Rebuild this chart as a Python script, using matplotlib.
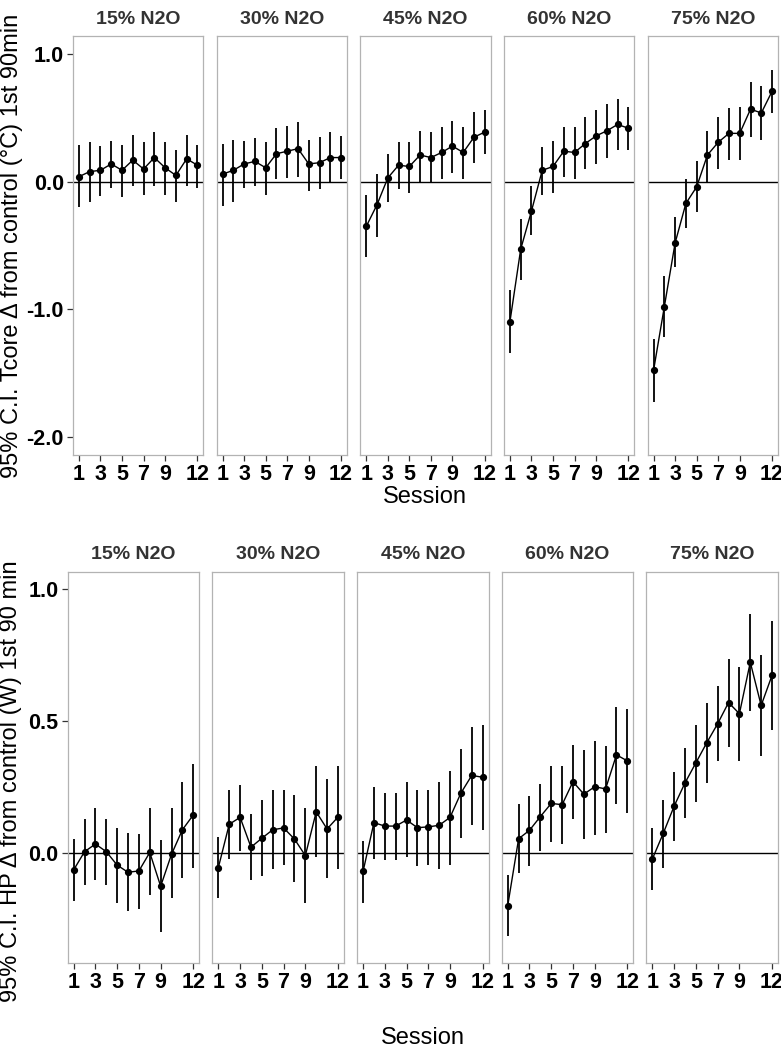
import numpy as np
import matplotlib
matplotlib.use('Agg')
from matplotlib import pyplot as plt

plt.rcParams['font.family'] = ['Liberation Sans', 'DejaVu Sans']

# facets and x values
doses = ['15% N2O', '30% N2O', '45% N2O', '60% N2O', '75% N2O']
sessions = list(range(1, 13))
xtick_vals = [1, 3, 5, 7, 9, 12]

# Tcore delta from control, mean and 95% CI per dose
tcore_mean = [
    [0.04, 0.08, 0.09, 0.14, 0.09, 0.17, 0.10, 0.19, 0.11, 0.05, 0.18, 0.13],
    [0.06, 0.09, 0.14, 0.16, 0.11, 0.22, 0.24, 0.26, 0.14, 0.15, 0.19, 0.19],
    [-0.35, -0.18, 0.03, 0.13, 0.12, 0.21, 0.19, 0.23, 0.28, 0.23, 0.35, 0.39],
    [-1.10, -0.53, -0.23, 0.09, 0.12, 0.24, 0.23, 0.30, 0.36, 0.40, 0.45, 0.42],
    [-1.48, -0.98, -0.48, -0.17, -0.04, 0.21, 0.31, 0.38, 0.38, 0.57, 0.54, 0.71],
]
tcore_lo = [
    [-0.20, -0.16, -0.11, -0.05, -0.12, -0.03, -0.10, -0.03, -0.10, -0.16, -0.03, -0.05],
    [-0.19, -0.16, -0.05, -0.03, -0.10, 0.02, 0.03, 0.04, -0.07, -0.06, -0.01, 0.02],
    [-0.59, -0.43, -0.16, -0.06, -0.09, -0.01, -0.01, 0.02, 0.07, 0.02, 0.15, 0.22],
    [-1.34, -0.77, -0.42, -0.10, -0.09, 0.04, 0.02, 0.10, 0.14, 0.19, 0.25, 0.25],
    [-1.73, -1.22, -0.67, -0.36, -0.24, 0.00, 0.10, 0.17, 0.17, 0.35, 0.33, 0.54],
]
tcore_hi = [
    [0.29, 0.31, 0.28, 0.32, 0.29, 0.37, 0.31, 0.39, 0.31, 0.25, 0.37, 0.29],
    [0.30, 0.33, 0.32, 0.34, 0.31, 0.42, 0.44, 0.47, 0.33, 0.35, 0.39, 0.36],
    [-0.10, 0.06, 0.22, 0.31, 0.31, 0.40, 0.39, 0.43, 0.48, 0.43, 0.55, 0.56],
    [-0.85, -0.29, -0.03, 0.27, 0.32, 0.43, 0.43, 0.51, 0.56, 0.61, 0.65, 0.59],
    [-1.23, -0.74, -0.28, 0.02, 0.16, 0.40, 0.51, 0.58, 0.59, 0.78, 0.75, 0.88],
]

# HP delta from control, mean and 95% CI per dose
hp_mean = [
    [-0.063, 0.006, 0.035, 0.006, -0.045, -0.072, -0.067, 0.003, -0.125, -0.004, 0.089, 0.145],
    [-0.054, 0.110, 0.136, 0.023, 0.057, 0.089, 0.096, 0.054, -0.009, 0.157, 0.092, 0.137],
    [-0.069, 0.116, 0.103, 0.103, 0.126, 0.097, 0.100, 0.106, 0.136, 0.228, 0.295, 0.288],
    [-0.198, 0.055, 0.087, 0.139, 0.189, 0.184, 0.271, 0.224, 0.252, 0.244, 0.373, 0.350],
    [-0.021, 0.076, 0.179, 0.267, 0.343, 0.419, 0.491, 0.571, 0.529, 0.724, 0.560, 0.674],
]
hp_lo = [
    [-0.18, -0.12, -0.10, -0.12, -0.19, -0.22, -0.21, -0.16, -0.30, -0.17, -0.094, -0.054],
    [-0.17, -0.02, 0.008, -0.10, -0.086, -0.06, -0.044, -0.11, -0.19, -0.015, -0.093, -0.06],
    [-0.19, -0.02, -0.025, -0.025, -0.016, -0.05, -0.044, -0.06, -0.044, 0.059, 0.108, 0.088],
    [-0.315, -0.076, -0.047, 0.009, 0.044, 0.034, 0.13, 0.054, 0.069, 0.078, 0.186, 0.151],
    [-0.139, -0.054, 0.047, 0.134, 0.195, 0.267, 0.35, 0.402, 0.348, 0.54, 0.37, 0.466],
]
hp_hi = [
    [0.054, 0.13, 0.17, 0.13, 0.094, 0.077, 0.072, 0.17, 0.052, 0.17, 0.27, 0.34],
    [0.062, 0.24, 0.26, 0.15, 0.20, 0.24, 0.24, 0.22, 0.17, 0.33, 0.28, 0.33],
    [0.047, 0.25, 0.23, 0.23, 0.27, 0.24, 0.24, 0.27, 0.31, 0.395, 0.48, 0.485],
    [-0.082, 0.186, 0.218, 0.262, 0.329, 0.329, 0.41, 0.39, 0.426, 0.407, 0.554, 0.545],
    [0.094, 0.203, 0.309, 0.399, 0.486, 0.571, 0.634, 0.737, 0.705, 0.907, 0.752, 0.88],
]

border_col = '#b3b3b3'
W, H = 781, 1049


def draw_row(fig, gs, means, los, his, ylim, yticks, ytick_labels):
    axes = []
    for i, dose in enumerate(doses):
        ax = fig.add_subplot(gs[0, i])
        m = np.array(means[i])
        lo = np.array(los[i])
        hi = np.array(his[i])
        ax.axhline(0, color='black', lw=1.0, zorder=1)
        ax.vlines(sessions, lo, hi, color='black', lw=1.3, zorder=2)
        ax.plot(sessions, m, color='black', lw=1.0, marker='o', ms=4.2, zorder=3)
        ax.set_xlim(0.45, 12.55)
        ax.set_ylim(*ylim)
        ax.set_xticks(xtick_vals)
        ax.set_xticklabels([str(v) for v in xtick_vals], fontsize=15.5, fontweight='bold')
        ax.set_yticks(yticks)
        if i == 0:
            ax.set_yticklabels(ytick_labels, fontsize=15.5, fontweight='bold')
        else:
            ax.tick_params(axis='y', left=False, labelleft=False)
        for s in ax.spines.values():
            s.set_color(border_col)
            s.set_linewidth(0.9)
        ax.tick_params(direction='out', length=4.5, width=0.9, color='#333333', pad=2)
        ax.set_title(dose, fontsize=14, fontweight='bold', color='#333333', pad=9)
        axes.append(ax)
    return axes


fig = plt.figure(figsize=(W / 100, H / 100), dpi=100)

gs_top = fig.add_gridspec(1, 5, left=73 / W, right=778 / W, top=1 - 36 / H,
                          bottom=1 - 455 / H, wspace=0.102)
draw_row(fig, gs_top, tcore_mean, tcore_lo, tcore_hi, (-2.144, 1.144),
         [1.0, 0.0, -1.0, -2.0], ['1.0', '0.0', '-1.0', '-2.0'])

gs_bot = fig.add_gridspec(1, 5, left=67.7 / W, right=778 / W, top=1 - 571.7 / H,
                          bottom=1 - 963.3 / H, wspace=0.1)
draw_row(fig, gs_bot, hp_mean, hp_lo, hp_hi, (-0.417, 1.067),
         [1.0, 0.5, 0.0], ['1.0', '0.5', '0.0'])

# axis labels
fig.text(425 / W, 1 - 497 / H, 'Session', fontsize=17, ha='center', va='center')
fig.text(423 / W, 1 - 1038 / H, 'Session', fontsize=17, ha='center', va='center')
fig.text(12 / W, 1 - 246 / H, '95% C.I. Tcore \u0394 from control (\u00b0C) 1st 90min',
         fontsize=17, rotation=90, ha='center', va='center')
fig.text(11 / W, 1 - 781 / H, '95% C.I. HP \u0394 from control (W) 1st 90 min',
         fontsize=17, rotation=90, ha='center', va='center')

plt.savefig('out.png', dpi=100)
